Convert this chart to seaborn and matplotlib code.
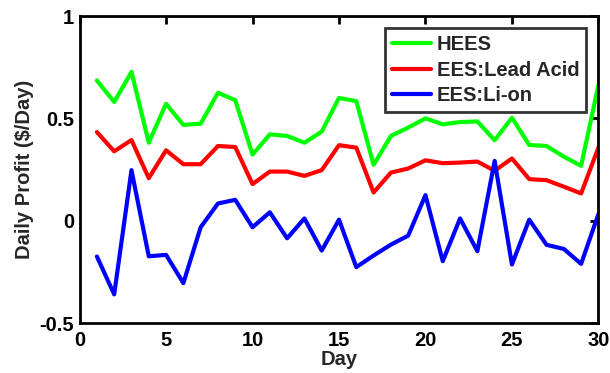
import seaborn as sns
import matplotlib.pyplot as plt
import pandas as pd

days = list(range(1, 31))
hees = [0.685, 0.58, 0.727, 0.381, 0.571, 0.468, 0.474, 0.625, 0.589, 0.323,
        0.422, 0.414, 0.381, 0.435, 0.60, 0.584, 0.273, 0.414, 0.455, 0.50,
        0.471, 0.482, 0.485, 0.393, 0.503, 0.37, 0.365, 0.313, 0.268, 0.662]
lead_acid = [0.433, 0.339, 0.394, 0.208, 0.344, 0.276, 0.276, 0.365, 0.36, 0.179,
             0.24, 0.24, 0.219, 0.247, 0.369, 0.357, 0.138, 0.235, 0.255, 0.295,
             0.281, 0.284, 0.289, 0.244, 0.304, 0.203, 0.198, 0.166, 0.133, 0.357]
li_on = [-0.175, -0.36, 0.247, -0.174, -0.167, -0.305, -0.032, 0.084, 0.102, -0.032,
         0.041, -0.086, 0.011, -0.146, 0.005, -0.227, -0.17, -0.117, -0.073, 0.125,
         -0.198, 0.011, -0.149, 0.292, -0.214, 0.005, -0.118, -0.138, -0.211, 0.032]
series_names = ["HEES", "EES:Lead Acid", "EES:Li-on"]
colors = ["#00ff00", "#ff0000", "#0000ff"]

df = pd.DataFrame({"Day": days, series_names[0]: hees,
                   series_names[1]: lead_acid, series_names[2]: li_on})
df = df.melt(id_vars="Day", var_name="series", value_name="profit")

sns.set_style("white")
plt.rcParams["font.family"] = ["Liberation Sans", "DejaVu Sans"]
plt.rcParams["font.weight"] = "bold"
fs = 14.5

fig = plt.figure(figsize=(6.1, 3.73), dpi=100)
ax = fig.add_axes([0.1305, 0.134, 0.8505, 0.823])
sns.lineplot(data=df, x="Day", y="profit", hue="series", hue_order=series_names,
             palette=colors, linewidth=3, ax=ax)

ax.set_xlim(0, 30)
ax.set_ylim(-0.5, 1)
ax.set_xticks([0, 5, 10, 15, 20, 25, 30])
ax.set_yticks([-0.5, 0, 0.5, 1])
ax.set_yticklabels(["-0.5", "0", "0.5", "1"])
ax.tick_params(direction="in", length=6, width=2, top=True, right=True,
               labelsize=fs, colors="black")
ax.tick_params(axis="x", pad=5.5)
ax.tick_params(axis="y", pad=4)
for lab in ax.get_xticklabels() + ax.get_yticklabels():
    lab.set_fontweight("bold")
for sp in ax.spines.values():
    sp.set_linewidth(2)
    sp.set_color("black")
ax.set_xlabel("Day", fontsize=fs, fontweight="bold", labelpad=0.5)
ax.set_ylabel("Daily Profit ($/Day)", fontsize=fs, fontweight="bold", labelpad=4)

leg = ax.legend(loc="upper right", fontsize=fs, frameon=True, fancybox=False,
                handlelength=1.9, borderpad=0.35, labelspacing=0.32,
                handletextpad=0.3, borderaxespad=0.6)
leg.get_frame().set_edgecolor("black")
leg.get_frame().set_linewidth(2)
for t in leg.get_texts():
    t.set_fontweight("bold")

fig.savefig("out.png", dpi=100)
